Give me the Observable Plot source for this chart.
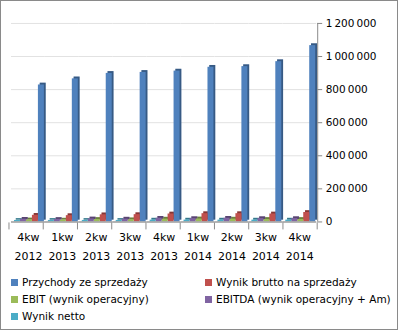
<!DOCTYPE html>
<html>
<head>
<meta charset="utf-8">
<script src="https://cdn.jsdelivr.net/npm/d3@7"></script>
<script src="https://cdn.jsdelivr.net/npm/@observablehq/plot@0.6"></script>
<style>
  html, body { margin: 0; padding: 0; background: #fff; }
  #frame { position: relative; width: 398px; height: 330px; box-sizing: border-box; border: 1px solid #8a8a8a; overflow: hidden; font-family: "DejaVu Sans", sans-serif; }
  #chart { position: absolute; left: -1px; top: -1px; }
  #legend { position: absolute; left: 0; top: 275px; width: 398px; font-size: 10.5px; color: #000; }
  .item { position: absolute; white-space: nowrap; line-height: 12px; }
  .sw { display: inline-block; width: 7px; height: 7px; margin-right: 4px; vertical-align: 0px; }
</style>
</head>
<body>
<div id="frame">
  <div id="chart"></div>
  <div id="legend"></div>
</div>
<script>
// ---- data ----
const quarters = ["4kw", "1kw", "2kw", "3kw", "4kw", "1kw", "2kw", "3kw", "4kw"];
const years = ["2012", "2013", "2013", "2013", "2013", "2014", "2014", "2014", "2014"];
const przychody = [828000, 865000, 898000, 904000, 912000, 935000, 939000, 969000, 1066000];
const wynikBrutto = [40000, 38000, 43000, 44000, 48000, 50000, 50000, 48000, 57000];
const ebit = [12000, 11000, 15000, 13000, 17000, 18000, 17000, 15000, 15000];
const ebitda = [16000, 15000, 18000, 17000, 22000, 20000, 22000, 20000, 20000];
const wynikNetto = [9000, 9000, 9000, 9000, 11000, 11000, 11000, 11000, 11000];
const seriesNames = ["Przychody ze sprzedaży", "Wynik brutto na sprzedaży", "EBIT (wynik operacyjny)", "EBITDA (wynik operacyjny + Am)", "Wynik netto"];
const seriesColors = ["#4f81bd", "#c0504d", "#9bbb59", "#8064a2", "#4bacc6"];
const yTicks = [0, 200000, 400000, 600000, 800000, 1000000, 1200000];

// ---- build table ----
const seriesValues = [przychody, wynikBrutto, ebit, ebitda, wynikNetto];
const categories = quarters.map((q, i) => q + "\n" + years[i]);
const barOrder = [4, 3, 2, 1, 0].map(i => seriesNames[i]); // drawn left to right in each group
const rows = categories.flatMap((c, i) => seriesNames.map((s, k) => ({cat: c, series: s, value: seriesValues[k][i]})));
const fmt = d => d3.format(",")(d).replace(/,/g, "\u2009");

const plot = Plot.plot({
  width: 398,
  height: 272,
  marginLeft: 9,
  marginRight: 80,
  marginTop: 23,
  marginBottom: 50,
  style: {fontFamily: "DejaVu Sans, sans-serif", fontSize: "10.5px", color: "#000", background: "transparent"},
  fx: {domain: categories, paddingInner: 0, paddingOuter: 0, label: null, axis: null},
  x: {domain: barOrder, paddingInner: 0.04, paddingOuter: 0.2, align: 0.7, axis: null},
  y: {domain: [0, 1200000], label: null, axis: null},
  color: {domain: seriesNames, range: seriesColors},
  marks: [
    Plot.gridY(yTicks, {stroke: "#e2e2e2", strokeOpacity: 1}),
    Plot.barY(rows, {fx: "cat", x: "series", y: "value", fill: "series", dx: 1.8, dy: -1.8}),
    Plot.barY(rows, {fx: "cat", x: "series", y: "value", fill: "#000", fillOpacity: 0.3, dx: 1.8, dy: -1.8}),
    Plot.barY(rows, {fx: "cat", x: "series", y: "value", fill: "series"}),
    Plot.ruleY([0], {stroke: "#a0a0a0", strokeWidth: 1.5}),
    Plot.axisY(yTicks, {anchor: "right", tickSize: 5, tickPadding: 4, tickFormat: fmt, label: null, stroke: "#888", fontSize: 10.5}),
    Plot.axisFx({anchor: "bottom", tickSize: 0, tickPadding: 5, lineHeight: 1.78, label: null, fontSize: 11})
  ]
});

// separator ticks and axis line from the plot's own scales
const fxS = plot.scale("fx");
const yS = plot.scale("y");
const band = d3.scaleBand().domain(fxS.domain).range(fxS.range).paddingInner(0).paddingOuter(0);
const y0 = yS.apply ? yS.apply(0) : 222;
const yTop = yS.apply ? yS.apply(1200000) : 23;
const svg = d3.select(plot);
const g = svg.append("g").attr("stroke", "#8c8c8c").attr("stroke-width", 1);
const bounds = categories.map(c => band(c)).concat([band(categories[categories.length - 1]) + band.bandwidth()]);
bounds.forEach(x => g.append("line").attr("x1", x).attr("x2", x).attr("y1", y0 + 1).attr("y2", y0 + 8));
const xr = bounds[bounds.length - 1];
g.append("line").attr("x1", xr + 0.5).attr("x2", xr + 0.5).attr("y1", y0).attr("y2", yTop);

document.getElementById("chart").appendChild(plot);

// legend
const legendPos = [[10, 0], [204, 0], [10, 17], [204, 17], [10, 34]];
const lg = document.getElementById("legend");
seriesNames.forEach((s, i) => {
  const d = document.createElement("div");
  d.className = "item";
  d.style.left = legendPos[i][0] + "px";
  d.style.top = legendPos[i][1] + "px";
  d.innerHTML = `<span class="sw" style="background:${seriesColors[i]}"></span>${s}`;
  lg.appendChild(d);
});
</script>
</body>
</html>
